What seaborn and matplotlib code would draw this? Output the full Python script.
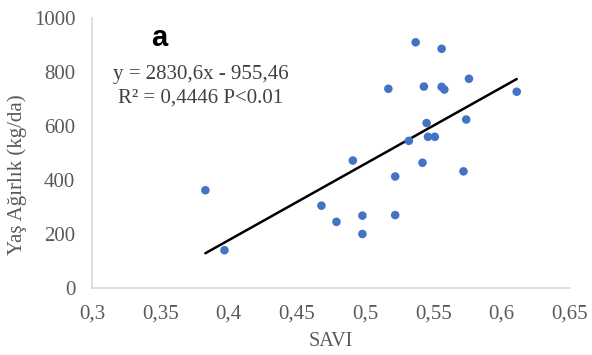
import numpy as np
import pandas as pd
import seaborn as sns
from matplotlib import pyplot as plt

savi = [0.383, 0.397, 0.468, 0.479, 0.498, 0.498, 0.491, 0.522, 0.522, 0.572,
        0.537, 0.556, 0.517, 0.543, 0.556, 0.558, 0.576, 0.611, 0.545, 0.574,
        0.532, 0.546, 0.551, 0.542]
yas_agirlik = [362, 140, 305, 245, 268, 200, 472, 270, 413, 432,
               910, 886, 738, 746, 745, 735, 775, 727, 611, 624,
               545, 560, 560, 464]

slope = 2830.6
intercept = -955.46
equation_text = "y = 2830,6x - 955,46"
r2_text = "R² = 0,4446 P<0.01"
panel_label = "a"

x_ticks = [0.3, 0.35, 0.4, 0.45, 0.5, 0.55, 0.6, 0.65]
x_tick_labels = ["0,3", "0,35", "0,4", "0,45", "0,5", "0,55", "0,6", "0,65"]
y_ticks = [0, 200, 400, 600, 800, 1000]

df = pd.DataFrame({"SAVI": savi, "yas": yas_agirlik})
x_line = np.array([min(savi), max(savi)])
line_df = pd.DataFrame({"SAVI": x_line, "fit": slope * x_line + intercept})

sns.set_style("white")
plt.rcParams["font.family"] = ["Liberation Serif", "DejaVu Serif"]

fig = plt.figure(figsize=(5.92, 3.55), dpi=100)
ax = fig.add_axes([92 / 592, 1 - 288 / 355, (570 - 92) / 592, (288 - 18) / 355])

sns.scatterplot(data=df, x="SAVI", y="yas", color="#4472C4", s=38,
                edgecolor="none", ax=ax, zorder=3)
sns.lineplot(data=line_df, x="SAVI", y="fit", color="black", linewidth=1.8,
             ax=ax, zorder=2)

ax.set_xlim(0.3, 0.65)
ax.set_ylim(0, 1000)
ax.set_xticks(x_ticks)
ax.set_xticklabels(x_tick_labels)
ax.set_yticks(y_ticks)
ax.tick_params(axis="both", length=0, labelsize=15, labelcolor="#595959", pad=12)

for side in ["top", "right"]:
    ax.spines[side].set_visible(False)
for side in ["left", "bottom"]:
    ax.spines[side].set_color("#d9d9d9")
    ax.spines[side].set_linewidth(1.2)

ax.set_xlabel("SAVI", fontsize=14.5, color="#595959")
ax.set_ylabel("Yaş Ağırlık (kg/da)", fontsize=15, color="#595959")
ax.xaxis.set_label_coords(0.5, (288 - 342) / 270)
ax.yaxis.set_label_coords((17 - 92) / 478, (288 - 175) / 270)
ax.xaxis.label.set_va("center")
ax.yaxis.label.set_va("center")

ax.text(201 / 592, 1 - 75 / 355, equation_text, transform=fig.transFigure,
        ha="center", va="center", fontsize=15, color="#404040")
ax.text(201 / 592, 1 - 98 / 355, r2_text, transform=fig.transFigure,
        ha="center", va="center", fontsize=15, color="#404040")
ax.text(159 / 592, 1 - 38 / 355, panel_label, transform=fig.transFigure,
        ha="center", va="center", fontsize=21, fontweight="bold",
        family=["Liberation Sans", "DejaVu Sans"], color="black")

fig.savefig("out.png", dpi=100)
